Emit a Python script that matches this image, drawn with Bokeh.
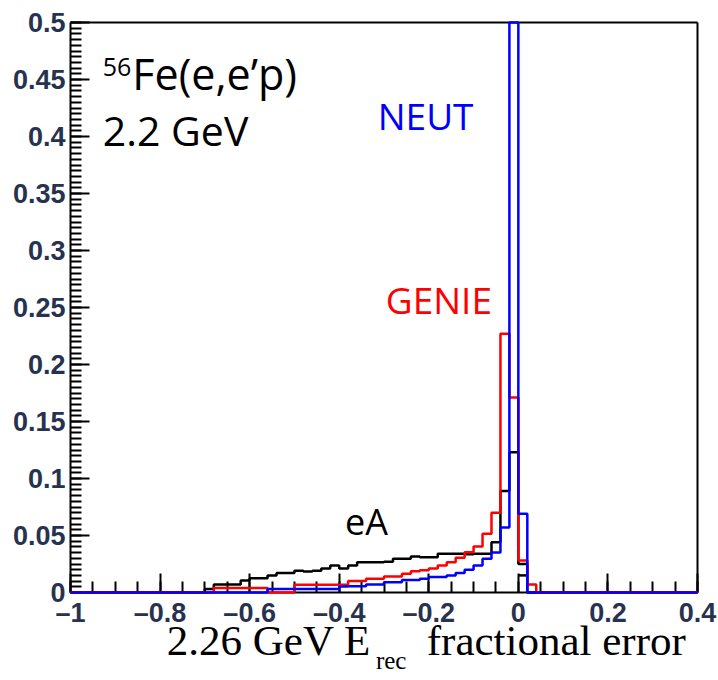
from bokeh.plotting import figure
from bokeh.models import Range1d, FixedTicker, Label, LinearAxis
from bokeh.embed import file_html
from bokeh.resources import INLINE

# ---- data: histograms with 0.02 wide bins from -1 to 0.4 ----
bin_edges = [round(-1.0 + 0.02 * k, 2) for k in range(71)]

# eA (black)
ea = [0]*15 + [
    0.003, 0.007, 0.007, 0.007, 0.0105, 0.0126, 0.0126, 0.015, 0.017, 0.017,
    0.019, 0.0185, 0.019, 0.021, 0.0237, 0.021, 0.0237, 0.0266, 0.0266, 0.0266,
    0.027, 0.0296, 0.0296, 0.0316, 0.031, 0.031, 0.034, 0.034, 0.034, 0.0335,
    0.034, 0.034, 0.044, 0.089, 0.123, 0.025] + [0]*19
# second eA level drawn in the bin just above zero
ea_inner_edges = [0.0, 0.02]
ea_inner = [0.015]

# GENIE (red)
genie = [0]*16 + [
    0.004, 0.004, 0.004, 0.004, 0.004, 0.004, 0, 0, 0,
    0.0067, 0.0067, 0.0067, 0.0067, 0.0067, 0.0067,
    0.010, 0.010, 0.012, 0.012, 0.014, 0.014, 0.0164, 0.0187, 0.0195, 0.021,
    0.0237, 0.0266, 0.0304, 0.0354, 0.0404, 0.0515, 0.070, 0.227, 0.171, 0.028,
    0.007] + [0]*18

# NEUT (blue)
neut = [0]*22 + [
    0.003, 0.003, 0.003, 0.003, 0.003, 0.003, 0.003, 0.003,
    0.0053, 0.0055, 0.0055, 0.007, 0.007, 0.009, 0.009, 0.011, 0.011, 0.012,
    0.0135, 0.0135, 0.015, 0.017, 0.020, 0.0237, 0.0295, 0.035, 0.057, 0.5,
    0.069] + [0]*19

x_ticks = [-1, -0.8, -0.6, -0.4, -0.2, 0, 0.2, 0.4]
x_tick_labels = ["\u20131", "\u20130.8", "\u20130.6", "\u20130.4", "\u20130.2", "0", "0.2", "0.4"]
y_ticks = [0, 0.05, 0.1, 0.15, 0.2, 0.25, 0.3, 0.35, 0.4, 0.45, 0.5]
y_tick_labels = ["0", "0.05", "0.1", "0.15", "0.2", "0.25", "0.3", "0.35", "0.4", "0.45", "0.5"]

assert len(ea) == 70 and len(genie) == 70 and len(neut) == 70

X_LO, X_HI = -1.0, 0.4
Y_LO, Y_HI = 0.0, 0.5
PX_X = 627 / (X_HI - X_LO)   # pixels per unit, plot box 70..697
PX_Y = 570 / (Y_HI - Y_LO)   # pixels per unit, plot box 22..592

# the frame spans the whole canvas; the visible box is drawn by axes at fixed places
p = figure(width=718, height=680, output_backend="svg", toolbar_location=None,
           x_range=Range1d(X_LO - 70 / PX_X, X_HI + 21 / PX_X),
           y_range=Range1d(Y_LO - 88 / PX_Y, Y_HI + 22 / PX_Y),
           x_axis_location=None, y_axis_location=None,
           min_border_left=0, min_border_right=0, min_border_top=0,
           min_border_bottom=0)
p.xgrid.visible = False
p.ygrid.visible = False
p.outline_line_color = None
p.background_fill_color = "white"
p.border_fill_color = "white"

x_minor = [round(-1 + 0.05 * k, 3) for k in range(29)]
y_minor = [round(0.005 * k, 4) for k in range(101)]

xax = LinearAxis(ticker=FixedTicker(ticks=x_ticks, minor_ticks=x_minor),
                 fixed_location=Y_LO, bounds=(X_LO, X_HI))
yax = LinearAxis(ticker=FixedTicker(ticks=y_ticks, minor_ticks=y_minor),
                 fixed_location=X_LO, bounds=(Y_LO, Y_HI))
xax.major_label_overrides = {t: l for t, l in zip(x_ticks, x_tick_labels)}
yax.major_label_overrides = {t: l for t, l in zip(y_ticks, y_tick_labels)}
for ax in (xax, yax):
    ax.axis_line_width = 2
    ax.axis_line_color = "black"
    ax.major_tick_in = 19
    ax.major_tick_out = 0
    ax.minor_tick_in = 11
    ax.minor_tick_out = 0
    ax.major_tick_line_width = 2
    ax.minor_tick_line_width = 2
    ax.major_tick_line_color = "black"
    ax.minor_tick_line_color = "black"
    ax.major_label_text_font = "Liberation Sans"
    ax.major_label_text_font_style = "bold"
    ax.major_label_text_font_size = "27px"
    ax.major_label_text_color = "#27324f"
xax.major_label_standoff = 5
yax.major_label_standoff = 5
p.add_layout(xax, "below")
p.add_layout(yax, "left")

# plain frame lines on the top and the right
for side, loc, bnds in (("above", Y_HI, (X_LO, X_HI)), ("right", X_HI, (Y_LO, Y_HI))):
    fr = LinearAxis(ticker=FixedTicker(ticks=[]), fixed_location=loc, bounds=bnds)
    fr.axis_line_width = 2
    fr.axis_line_color = "black"
    fr.major_tick_line_color = None
    fr.minor_tick_line_color = None
    fr.major_label_text_font_size = "0px"
    p.add_layout(fr, side)

def hist(edges, counts, color):
    r = p.step(edges, list(counts) + [counts[-1]], mode="after",
               line_color=color, line_width=2.5)
    r.level = "overlay"
    return r

hist(bin_edges, ea, "black")
hist(ea_inner_edges, ea_inner, "black")
hist(bin_edges, genie, "#ff0000")
hist(bin_edges, neut, "#0000ff")

sans = "Open Sans"
def lab(x, y, text, size, color="black", font=sans):
    p.add_layout(Label(x=x, y=y, text=text, text_font_size=size,
                       text_color=color, text_font=font,
                       text_baseline="alphabetic", text_align="left"))

lab(-0.928, 0.4614, "56", "25px")
lab(-0.862, 0.4553, "Fe(e,e\u2019p)", "43px")
lab(-0.928, 0.4053, "2.2 GeV", "41px")
lab(-0.314, 0.4184, "NEUT", "37px", "#0000ff")
lab(-0.296, 0.2570, "GENIE", "37px", "#ff0000")
lab(-0.387, 0.0623, "eA", "36px")

serif = "Liberation Serif"
lab(-0.785, -0.0425, "2.26 GeV E", "43px", font=serif)
lab(-0.318, -0.0595, "rec", "25px", font=serif)
lab(-0.2045, -0.0425, "fractional error", "43px", font=serif)

open("out.html", "w").write(file_html(p, INLINE))
